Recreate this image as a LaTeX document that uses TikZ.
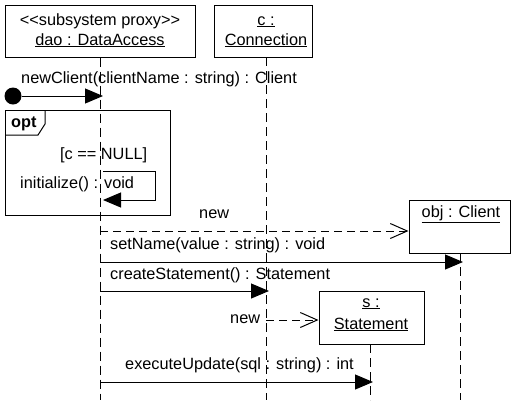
\documentclass[tikz,border=0pt]{standalone}
\usepackage{fontspec}
\setmainfont{Liberation Sans}
\usetikzlibrary{arrows.meta}
\begin{document}
\begin{tikzpicture}[x=1pt,y=-1pt,
  every node/.style={font=\fontsize{16.3}{20}\selectfont, inner sep=0pt},
  objbox/.style={draw, line width=1pt, minimum height=52pt},
  lifeline/.style={line width=1pt, dash pattern=on 9pt off 5pt},
  msg/.style={line width=1pt, -{Triangle[length=18pt,width=15pt]}},
  create/.style={line width=1pt, dash pattern=on 8pt off 5pt, -{Straight Barb[length=17pt,width=15pt,line width=1pt]}},
  lbl/.style={anchor=base west},
  ctr/.style={anchor=base}]
\useasboundingbox (0,0) rectangle (520,400);
% objects
\node[objbox, minimum width=190pt] (dao) at (100,31) {};
\node[ctr] (daoS) at (100,25) {\mbox{<}\mbox{<}subsystem proxy\mbox{>}\mbox{>}};
\node[ctr] (daoN) at (100,45) {\underline{dao : DataAccess}};
\node[objbox, minimum width=98pt] (c) at (263,31) {};
\node[ctr] (cA) at (266,25) {\underline{c :}};
\node[ctr] (cB) at (266,45) {\underline{Connection}};
\node[objbox, minimum width=101pt, minimum height=53pt] (cl) at (459.5,226.5) {};
\node[ctr] (clN) at (461,217) {\underline{obj : Client}};
\node[objbox, minimum width=105pt, minimum height=53pt] (st) at (371.5,317.5) {};
\node[ctr] (stA) at (371,307) {\underline{s :}};
\node[ctr] (stB) at (371,329) {\underline{Statement}};
% lifelines
\coordinate (daoB) at (100,400);
\coordinate (cT) at (266,57);
\coordinate (cBot) at (266,400);
\coordinate (clT) at (460,253);
\coordinate (clB) at (460,400);
\coordinate (stT) at (370,344);
\coordinate (stBot) at (370,400);
\draw[lifeline] (dao.south) -- (daoB);
\draw[lifeline] (cT) -- (cBot);
\draw[lifeline] (clT) -- (clB);
\draw[lifeline] (stT) -- (stBot);
% opt frame
\node[draw, line width=1pt, anchor=north west, minimum width=165pt, minimum height=105pt] (opt) at (5,110) {};
\coordinate (p1) at (5,135);
\coordinate (p2) at (38,135);
\coordinate (p3) at (45,124);
\coordinate (p4) at (45,110);
\draw[line width=1pt] (p1) -- (p2) -- (p3) -- (p4);
\node[lbl, font=\fontsize{16.3}{20}\selectfont\bfseries] (optL) at (11,127) {opt};
\node[lbl] (guard) at (60,159) {[c == NULL]};
% start
\node[circle, fill, minimum size=17pt] (start) at (13,96) {};
\coordinate (m1e) at (103,96);
\draw[msg] (start) -- (m1e);
\node[lbl] (m1L) at (21,83) {newClient(clientName : string) : Client};
% self message
\coordinate (s1) at (103,171);
\coordinate (s2) at (155,171);
\coordinate (s3) at (155,200);
\coordinate (s4) at (103,200);
\draw[msg] (s1) -- (s2) -- (s3) -- (s4);
\node[lbl] (s1L) at (20,188) {initialize() : void};
% new client
\coordinate (n1s) at (100,231);
\coordinate (n1e) at (cl.west |- n1s);
\draw[create] (n1s) -- (n1e);
\node[lbl] (n1L) at (199,218) {new};
% setName
\coordinate (m2s) at (100,262);
\coordinate (m2e) at (463,262);
\draw[msg] (m2s) -- (m2e);
\node[lbl] (m2L) at (110,249) {setName(value : string) : void};
% createStatement
\coordinate (m3s) at (100,291);
\coordinate (m3e) at (269,291);
\draw[msg] (m3s) -- (m3e);
\node[lbl] (m3L) at (110,279) {createStatement() : Statement};
% new statement
\coordinate (n2s) at (266,320);
\coordinate (n2e) at (st.west |- n2s);
\draw[create] (n2s) -- (n2e);
\node[lbl] (n2L) at (230,323) {new};
% executeUpdate
\coordinate (m4s) at (100,382);
\coordinate (m4e) at (373,382);
\draw[msg] (m4s) -- (m4e);
\node[lbl] (m4L) at (125,369) {executeUpdate(sql : string) : int};
\end{tikzpicture}
\end{document}
